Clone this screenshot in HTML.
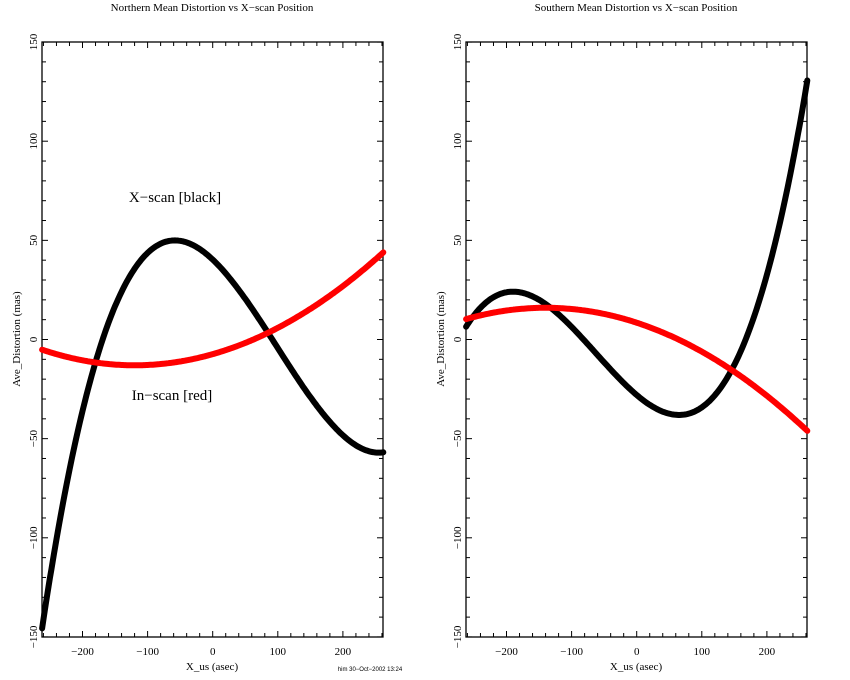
<!DOCTYPE html>
<html><head><meta charset="utf-8"><style>
html,body{margin:0;padding:0;background:#fff;}
svg{display:block;font-family:"Liberation Serif",serif;}
</style></head><body>
<svg id="s" width="850" height="680" xmlns="http://www.w3.org/2000/svg"></svg>
<script>
const s=document.getElementById('s');
let h='';
function panel(off,title,fb,fr){
  const L=42+off,R=383+off,T=42,B=637;
  const X=v=>212.7+off+v*0.651, Y=v=>339.5-v*1.983;
  h+=`<text x="${212+off}" y="11" font-size="11" text-anchor="middle">${title}</text>`;
  h+=`<rect x="${L}" y="${T}" width="${R-L}" height="${B-T}" fill="none" stroke="#000" stroke-width="1.3"/>`;
  for(let v=-260;v<=260;v+=20){const x=X(v);if(x<L+1||x>R-1)continue;const big=v%100==0;const l=big?6:4;
    h+=`<line x1="${x}" y1="${B}" x2="${x}" y2="${B-l}" stroke="#000"/><line x1="${x}" y1="${T}" x2="${x}" y2="${T+l}" stroke="#000"/>`;
    if(big)h+=`<text x="${x}" y="${B+18}" font-size="11" text-anchor="middle">${v<0?'\u2212'+(-v):v}</text>`;}
  for(let v=-150;v<=150;v+=10){const y=Y(v);const big=v%50==0;const l=big?6:4;
    h+=`<line x1="${L}" y1="${y}" x2="${L+l}" y2="${y}" stroke="#000"/><line x1="${R}" y1="${y}" x2="${R-l}" y2="${y}" stroke="#000"/>`;
    if(big)h+=`<text transform="translate(${L-5},${y}) rotate(-90)" font-size="11" text-anchor="middle">${v<0?'\u2212'+(-v):v}</text>`;}
  h+=`<text x="${212+off}" y="670" font-size="11" text-anchor="middle">X_us (asec)</text>`;
  h+=`<text transform="translate(${20+off},339) rotate(-90)" font-size="11" text-anchor="middle">Ave_Distortion (mas)</text>`;
  for(const [f,c] of [[fb,'#000'],[fr,'#f00']]){let p='';for(let v=-262;v<=262;v+=2){p+=(p?'L':'M')+X(v).toFixed(1)+','+Y(f(v)).toFixed(1);}
    h+=`<path d="${p}" fill="none" stroke="${c}" stroke-width="6" stroke-linecap="round"/>`;}
}
panel(0,'Northern Mean Distortion vs X\u2212scan Position',
  x=>6.98e-6*(x*x*x-295.5*x*x-44370*x)+40.3, x=>3.9e-4*(x+120)*(x+120)-13);
panel(424,'Southern Mean Distortion vs X\u2212scan Position',
  x=>7.5e-6*(x*x*x+187.5*x*x-37050*x)-28, x=>-3.84e-4*(x+140)*(x+140)+16);
h+=`<text x="175" y="202" font-size="15" text-anchor="middle">X\u2212scan [black]</text>`;
h+=`<text x="172" y="400" font-size="15" text-anchor="middle">In\u2212scan [red]</text>`;
h+=`<text x="370" y="671" font-size="6" font-family="Liberation Sans,sans-serif" text-anchor="middle">him 30\u2212Oct\u22122002 13:24</text>`;
s.innerHTML=h;
</script>
</body></html>
